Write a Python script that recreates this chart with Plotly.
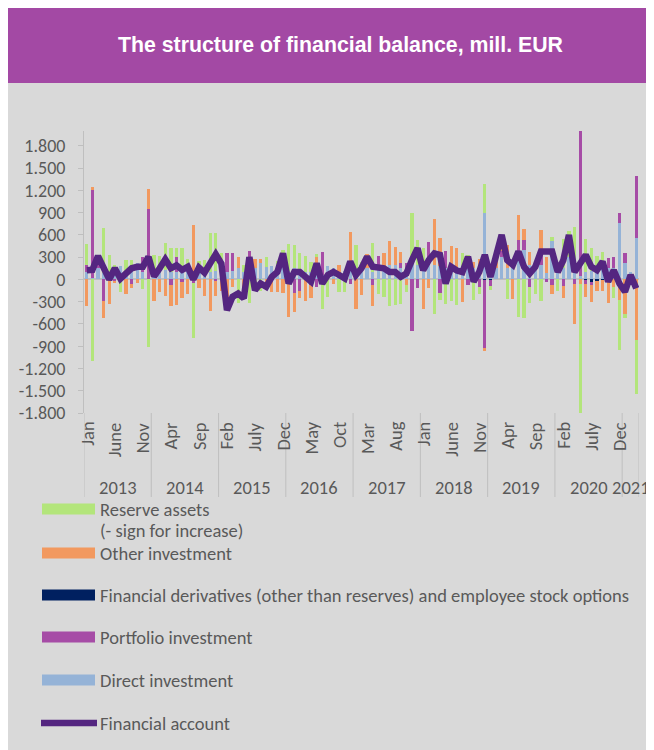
import plotly.graph_objects as go

# ---- data (mill. EUR, monthly, Jan 2013 - Mar 2021) ----
years = [2013, 2014, 2015, 2016, 2017, 2018, 2019, 2020, 2021]
months_in_year = [12, 12, 12, 12, 12, 12, 12, 12, 3]
month_names = ["Jan", "Feb", "Mar", "Apr", "May", "June", "July", "Aug", "Sep", "Oct", "Nov", "Dec"]
periods = [(y, month_names[m]) for y, n in zip(years, months_in_year) for m in range(n)]
label_every = 5

direct = [
    100, 20, 150, 80, 30, 120, 180, 100, 180, 220, 100, 0,
    100, 120, 130, 100, 100, 120, 150, 30, 120, 150, 100, 120,
    130, 100, 120, 150, 100, 180, 150, 215, 170, 180, 150, 200,
    120, 150, 140, 100, 100, 160, 60, 180, 150, 60, 120, 150,
    100, 150, 150, 100, 130, 150, 200, 190, 160, 80, 300, 200,
    150, 200, 200, 180, 150, 150, 130, 150, 200, 150, 180, 890,
    100, 150, 300, 150, 200, 250, 400, 200, 200, 200, 90, 520,
    100, 150, 300, 150, 50, 100, 120, 150, 200, 150, 150, 755,
    220, 100, 555,
]
derivatives = [
    0, 0, 0, 0, 0, 0, 0, 0, 0, 0, 0, 0,
    0, 0, 0, 0, 0, 0, 0, 0, 0, 0, 0, 0,
    0, 0, 0, 0, 0, 0, 0, 0, 0, 0, 0, 0,
    0, 0, 0, 0, 0, 0, 0, 0, 0, 0, 0, 0,
    0, 0, 0, 0, 0, 0, 0, 0, 0, 0, 0, 0,
    0, 0, 0, 0, 0, 0, 0, 0, 0, 0, 0, -10,
    -10, 0, 0, 0, 0, 0, 0, 0, 0, 0, 0, 0,
    0, 0, 0, 0, 0, -10, -30, -25, -10, 0, 0, 0,
    0, 0, 0,
]
portfolio = [
    100, 1190, 60, -290, 0, -30, 0, 0, -60, 0, 200, 945,
    0, 0, 0, -80, 200, -30, 0, -50, 0, 0, 0, -20,
    0, 260, 240, 0, 0, 200, 0, 0, 0, 0, 0, 0,
    -50, -180, -150, 0, -80, -100, 305, 0, 0, 0, 0, -60,
    0, 0, 0, -70, 185, 0, 0, 0, 60, 145, -700, -120,
    0, 310, 0, -180, 235, 0, 0, 0, -70, 0, -100, -910,
    -80, 0, 80, 0, 0, 280, 130, -100, 0, 150, -35, -75,
    0, -90, 0, -60, 2100, -50, -50, 0, 0, 140, 155, 145,
    130, 0, 840,
]
other = [
    -355, 30, 60, -230, -330, -20, 0, -190, -60, -50, 0, 270,
    -290, -165, -220, -280, -350, -225, -190, 705, -110, -220, -420, -200,
    -150, -300, -100, 150, -200, 0, 120, 60, -30, -165, -165, -180,
    -460, -260, -105, -290, -175, 140, 0, 0, -60, 140, 0, 485,
    -405, -210, 190, -290, 0, 210, 320, 250, 145, -75, 0, 0,
    -405, -110, 610, 375, 0, 305, 295, -300, 0, 90, 100, -50,
    0, 100, 100, 315, -270, 340, 145, 175, 0, 315, 215, -115,
    0, -155, 0, -540, -60, -175, -220, -130, -145, -315, -100, -280,
    -470, 0, -820,
]
reserve = [
    280, -1100, 40, 610, 300, 80, -170, 160, 80, 0, -130, -910,
    230, 200, 360, 330, 130, 310, 120, -740, 130, 110, 530, 500,
    220, -40, 0, -320, 95, -320, -60, -150, 130, 0, 100, 200,
    355, 315, 210, 215, 140, 40, -405, -235, 0, -175, -165, 0,
    365, 80, 0, 385, -190, -235, -360, -345, -325, -90, 590, 330,
    270, 0, -470, -100, -335, -290, -345, 210, 130, -280, -100, 400,
    -55, 0, 0, -270, 0, -505, -525, -215, -190, -290, 0, 45,
    -155, 390, 350, 550, -1900, 440, 310, 160, 175, 0, -150, -665,
    -55, 0, -720,
]
financial_account = [
    125, 130, 315, 170, 0, 150, 10, 80, 150, 170, 170, 305,
    40, 150, 270, 150, 190, 130, 170, 0, 160, 90, 220, 340,
    215, -415, -235, -190, -255, 300, -145, -55, -100, 35, 100, 350,
    -55, 100, 100, 35, -30, 215, -55, 60, 100, 60, 15, 240,
    60, 150, 305, 170, 150, 150, 100, 100, 35, 80, 260, 420,
    125, 260, 350, 330, -55, 170, 120, 100, 305, -30, 100, 330,
    35, 330, 600, 260, 195, 375, 170, 80, 170, 375, 375, 375,
    100, 260, 600, 100, 215, 330, 170, 125, 240, -30, 125, -55,
    -165, 60, -120,
]

y_ticks = list(range(-1800, 1801, 300))
y_tick_text = [f"{v:,}".replace(",", ".") for v in y_ticks]

# ---- figure geometry (figure pixels; the page adds an 8px body margin) ----
W, H = 646, 742
ML, MR, MT, MB = 76, 15, 123, 337
PW, PH = W - ML - MR, H - MT - MB
FONT = "Carlito, Lato, sans-serif"
GREY_TXT = "#595959"
FS = 18.5


def px(x):
    return (x - ML) / PW


def py(y):
    return (H - MB - y) / PH


x = list(range(len(periods)))
label_idx = x[::label_every]

fig = go.Figure()

bar_series = [
    ("Direct investment", direct, "#95B3D7"),
    ("Financial derivatives (other than reserves) and employee stock options", derivatives, "#002060"),
    ("Portfolio investment", portfolio, "#A64CA6"),
    ("Other investment", other, "#F2995F"),
    ("Reserve assets", reserve, "#B3E57B"),
]
for name, vals, color in bar_series:
    fig.add_trace(go.Bar(x=x, y=vals, name=name, width=0.58,
                         marker=dict(color=color, line=dict(width=0))))

fig.add_trace(go.Scatter(x=x, y=financial_account, name="Financial account", mode="lines",
                         line=dict(color="#542680", width=6.5)))

shapes = [
    # grey chart panel and purple header
    dict(type="rect", xref="paper", yref="paper", x0=px(0), x1=px(W), y0=py(H), y1=py(75),
         fillcolor="#D9D9D9", line=dict(width=0), layer="below"),
    dict(type="rect", xref="paper", yref="paper", x0=px(0), x1=px(W), y0=py(75), y1=py(0),
         fillcolor="#A349A4", line=dict(width=0), layer="below"),
]

# year group dividers under the axis
bounds = [-0.5]
for n in months_in_year:
    bounds.append(bounds[-1] + n)
for b in bounds:
    shapes.append(dict(type="line", xref="x", yref="paper", x0=b, x1=b, y0=0, y1=py(489),
                       line=dict(color="#BFBFBF", width=1)))

annotations = [
    dict(text="<b>The structure of financial balance, mill. EUR</b>", xref="paper", yref="paper",
         x=px(332), y=py(37), showarrow=False, xanchor="center", yanchor="middle",
         font=dict(family="Liberation Sans, Arial", size=21.3, color="white")),
]
# month labels (every 5th month), rotated
for i in label_idx:
    annotations.append(dict(text=periods[i][1], xref="x", yref="paper", x=i, y=py(412),
                            showarrow=False, textangle=-90, xanchor="center", yanchor="top",
                            font=dict(family=FONT, size=FS, color=GREY_TXT)))
# year labels
for yr, b0, b1 in zip(years, bounds[:-1], bounds[1:]):
    annotations.append(dict(text=str(yr), xref="x", yref="paper", x=(b0 + b1) / 2, y=py(479),
                            showarrow=False, xanchor="center", yanchor="middle",
                            font=dict(family=FONT, size=FS, color=GREY_TXT)))

# legend (drawn by hand to match the long swatches)
legend_items = [
    ("Reserve assets", "#B3E57B", "bar", 501),
    ("Other investment", "#F2995F", "bar", 545),
    ("Financial derivatives (other than reserves) and employee stock options", "#002060", "bar", 587),
    ("Portfolio investment", "#A64CA6", "bar", 629),
    ("Direct investment", "#95B3D7", "bar", 672),
    ("Financial account", "#542680", "line", 715),
]
legend_notes = [("(- sign for increase)", 522)]
for text, color, kind, ys in legend_items:
    if kind == "bar":
        shapes.append(dict(type="rect", xref="paper", yref="paper", x0=px(34), x1=px(87),
                           y0=py(ys + 5.5), y1=py(ys - 5.5), fillcolor=color, line=dict(width=0)))
    else:
        shapes.append(dict(type="line", xref="paper", yref="paper", x0=px(33), x1=px(89),
                           y0=py(ys), y1=py(ys), line=dict(color=color, width=6.5)))
    legend_notes.append((text, ys))
for text, yt in legend_notes:
    annotations.append(dict(text=text, xref="paper", yref="paper", x=px(91), y=py(yt),
                            showarrow=False, xanchor="left", yanchor="middle", align="left",
                            borderpad=0,
                            font=dict(family=FONT, size=FS, color=GREY_TXT)))

fig.update_layout(
    width=W, height=H,
    margin=dict(l=ML, r=MR, t=MT, b=MB, autoexpand=False),
    barmode="relative",
    bargap=0,
    showlegend=False,
    paper_bgcolor="white",
    plot_bgcolor="white",
    shapes=shapes,
    annotations=annotations,
    xaxis=dict(
        range=[-0.5, len(x) - 0.5],
        tickmode="linear", tick0=-0.5, dtick=1,
        showticklabels=False, ticks="",
        showgrid=True, gridcolor="#D9D9D9", gridwidth=1.6,
        zeroline=False, showline=False,
    ),
    yaxis=dict(
        range=[-1800, 2000],
        tickmode="array", tickvals=y_ticks, ticktext=y_tick_text,
        showgrid=True, gridcolor="#D9D9D9", gridwidth=1.6,
        zeroline=True, zerolinecolor="#BFBFBF", zerolinewidth=1.6,
        showline=True, linecolor="#BFBFBF", ticks="outside", ticklen=5, tickcolor="#BFBFBF",
        ticklabelstandoff=9,
        tickfont=dict(family=FONT, size=18, color=GREY_TXT),
    ),
)

fig.write_html("out.html")
